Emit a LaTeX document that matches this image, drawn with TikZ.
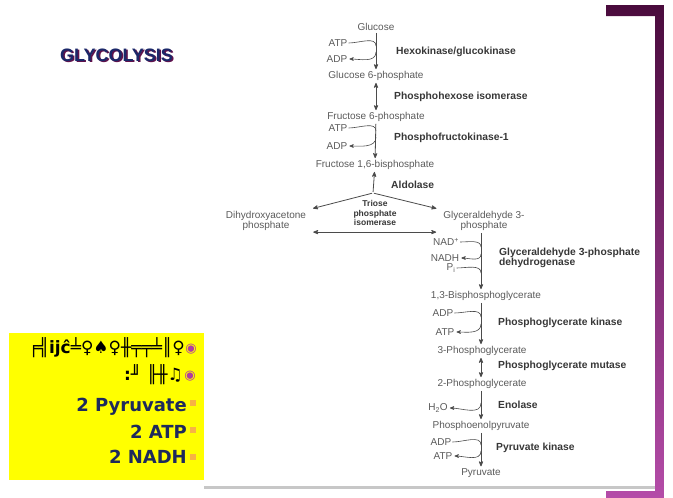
\documentclass[tikz,border=0pt]{standalone}
\usepackage{fontspec}
\setmainfont{Liberation Sans}
\newfontfamily\dejavu{DejaVu Sans}
\usetikzlibrary{arrows,positioning}

\definecolor{plumdark}{RGB}{74,11,61}
\definecolor{plumlight}{RGB}{180,76,168}
\definecolor{titlenavy}{RGB}{27,40,105}
\definecolor{titleplum}{RGB}{96,18,76}
\definecolor{boxyellow}{RGB}{255,255,0}
\definecolor{boxnavy}{RGB}{30,42,92}
\definecolor{bulletorange}{RGB}{247,178,68}
\definecolor{ringpurple}{RGB}{176,62,160}
\definecolor{scanline}{RGB}{75,75,75}
\definecolor{scantext}{RGB}{90,90,90}
\definecolor{scanenz}{RGB}{55,55,55}

\begin{document}
\begin{tikzpicture}[x=1pt, y=1pt, >=stealth',
	metab/.style={font=\fontsize{10}{10.5}\selectfont, text=scantext, inner sep=1pt, align=center},
	enz/.style={font=\bfseries\fontsize{10.3}{10.5}\selectfont, text=scanenz, anchor=west, inner sep=1pt, align=left},
	rxn/.style={color=scanline, line width=0.8pt, shorten >=1pt, shorten <=1pt},
	side/.style={draw=scanline, line width=0.6pt, shorten >=1pt},
	total/.style={font=\dejavu\bfseries\fontsize{18}{20}\selectfont, text=boxnavy, anchor=base east, inner sep=0pt},
	glyphs/.style={font=\dejavu\bfseries\fontsize{17}{20}\selectfont, anchor=east, inner sep=0pt},
	ring/.style={font=\dejavu\fontsize{13}{14}\selectfont, text=ringpurple, inner sep=0pt},
	bullet/.style={fill=bulletorange, minimum size=6pt, inner sep=0pt},
	title/.style={font=\bfseries\fontsize{18}{20}\selectfont, inner sep=0pt}]

	\useasboundingbox (0,0) rectangle (673,-498);

	% Frame and scan edge
	\shade [top color=plumdark, bottom color=plumlight] (606,-5) rectangle (664,-16) (655,-5) rectangle (664,-498) (606,-491) rectangle (664,-498);
	\draw [line width=3pt, black!22] (204,-487) -- (655,-487);

	% Title
	\node [title, text=titleplum]	(titleshade)	at (118,-56.5)	{GLYCOLYSIS};
	\node [title, text=titlenavy]	(title)		at (116.5,-55)	{GLYCOLYSIS};

	% Net yield box
	\fill [boxyellow] (9,-333) rectangle (204,-480);
	\node [glyphs]	(garble1)	at (185,-348)	{╒╣ijĉ╧♀♠♀╫╤╤╧║♀};
	\node [glyphs]	(garble2)	at (183,-375)	{:╜ ╟╫♫};
	\node [ring]	(ring1)		at (191,-349)	{◉};
	\node [ring]	(ring2)		at (190,-376)	{◉};
	\node [total]	(npyr)		at (187,-411)	{2 Pyruvate};
	\node [total]	(natp)		at (187,-438)	{2 ATP};
	\node [total]	(nnadh)		at (187,-463)	{2 NADH};
	\node [bullet]	(b1)		at (193,-403)	{};
	\node [bullet]	(b2)		at (193,-430)	{};
	\node [bullet]	(b3)		at (193,-457)	{};

	% Nodes {glc, g6p, f6p, fbp, dhap, gap, bpg, pg3, pg2, pep, pyr}
	\node [metab]	(glc)	at (376,-27)	{Glucose};
	\node [metab]	(g6p)	at (376,-76)	{Glucose 6-phosphate};
	\node [metab]	(f6p)	at (376,-117)	{Fructose 6-phosphate};
	\node [metab]	(fbp)	at (375,-165)	{Fructose 1,6-bisphosphate};
	\node [metab]	(dhap)	at (266,-221)	{Dihydroxyacetone\\phosphate};
	\node [metab]	(gap)	at (484,-221)	{Glyceraldehyde 3-\\phosphate};
	\node [metab]	(bpg)	at (486,-296)	{1,3-Bisphosphoglycerate};
	\node [metab]	(pg3)	at (482,-351)	{3-Phosphoglycerate};
	\node [metab]	(pg2)	at (482,-384)	{2-Phosphoglycerate};
	\node [metab]	(pep)	at (481,-426)	{Phosphoenolpyruvate};
	\node [metab]	(pyr)	at (481,-473)	{Pyruvate};

	% Side compounds
	\node [metab]	(atp1)	at (338,-43)	{ATP};
	\node [metab]	(adp1)	at (337,-59)	{ADP};
	\node [metab]	(atp2)	at (338,-128)	{ATP};
	\node [metab]	(adp2)	at (337,-146)	{ADP};
	\node [metab]	(nad)	at (446,-242)	{NAD\textsuperscript{+}};
	\node [metab]	(nadh)	at (445,-258)	{NADH};
	\node [metab]	(pi)	at (451,-268)	{P\textsubscript{i}};
	\node [metab]	(adp3)	at (443,-313)	{ADP};
	\node [metab]	(atp3)	at (445,-332)	{ATP};
	\node [metab]	(h2o)	at (438,-408)	{H\textsubscript{2}O};
	\node [metab]	(adp4)	at (441,-442)	{ADP};
	\node [metab]	(atp4)	at (443,-456)	{ATP};

	% Enzymes
	\node [enz]	(hk)	at (395,-52)	{Hexokinase/glucokinase};
	\node [enz]	(pgi)	at (393,-97)	{Phosphohexose isomerase};
	\node [enz]	(pfk)	at (393,-138)	{Phosphofructokinase-1};
	\node [enz]	(ald)	at (390,-185)	{Aldolase};
	\node [enz, anchor=center, align=center, font=\bfseries\fontsize{8.5}{9.5}\selectfont]	(tpi)	at (375,-213)	{Triose\\phosphate\\isomerase};
	\node [enz]	(gapdh)	at (498,-258)	{Glyceraldehyde 3-phosphate\\dehydrogenase};
	\node [enz]	(pgk)	at (497,-323)	{Phosphoglycerate kinase};
	\node [enz]	(pgm)	at (497,-366)	{Phosphoglycerate mutase};
	\node [enz]	(eno)	at (497,-405)	{Enolase};
	\node [enz]	(pk)	at (495,-448)	{Pyruvate kinase};

	% Junctions on the main line
	\coordinate (split)	at (373,-193);
	\coordinate (j1)	at (376,-47);
	\coordinate (j2)	at (376,-52);
	\coordinate (j3)	at (376,-132);
	\coordinate (j4)	at (376,-137);
	\coordinate (j5)	at (481,-248);
	\coordinate (j6)	at (481,-254);
	\coordinate (j7)	at (481,-274);
	\coordinate (j8)	at (481,-318);
	\coordinate (j9)	at (481,-324);
	\coordinate (j10)	at (481,-403);
	\coordinate (j11)	at (481,-446);
	\coordinate (j12)	at (481,-451);

	% Paths
	\path [rxn, ->]		(glc) edge (g6p);
	\path [rxn, <->]	(g6p) edge (f6p);
	\path [rxn, ->]		(f6p) edge (fbp);
	\path [rxn, <-]		(fbp) edge (split);
	\path [rxn, ->]		(split) edge [shorten >=6pt] (dhap.north east);
	\path [rxn, ->]		(split) edge [shorten >=6pt] (gap.north west);
	\path [rxn, <->]	(dhap.south east) edge [shorten <=6pt, shorten >=6pt] (gap.south west);
	\path [rxn, ->]		(gap.south -| pyr) edge (bpg.north -| pyr);
	\path [rxn, ->]		(bpg.south -| pyr) edge (pg3.north -| pyr);
	\path [rxn, <->]	(pg3.south -| pyr) edge (pg2.north -| pyr);
	\path [rxn, ->]		(pg2.south -| pyr) edge (pep.north -| pyr);
	\path [rxn, ->]		(pep) edge (pyr);

	% Side arrows
	\draw [side]		(atp1.east) to [out=0, in=90] (j1);
	\draw [side, ->]	(j2) to [out=-90, in=0] (adp1.east);
	\draw [side]		(atp2.east) to [out=0, in=90] (j3);
	\draw [side, ->]	(j4) to [out=-90, in=0] (adp2.east);
	\draw [side]		(nad.east) to [out=0, in=90] (j5);
	\draw [side, ->]	(j6) to [out=-90, in=0] (nadh.east);
	\draw [side]		(pi.east) to [out=0, in=90] (j7);
	\draw [side]		(adp3.east) to [out=0, in=90] (j8);
	\draw [side, ->]	(j9) to [out=-90, in=0] (atp3.east);
	\draw [side, ->]	(j10) to [out=-90, in=0] (h2o.east);
	\draw [side]		(adp4.east) to [out=0, in=90] (j11);
	\draw [side, ->]	(j12) to [out=-90, in=0] (atp4.east);

\end{tikzpicture}
\end{document}
